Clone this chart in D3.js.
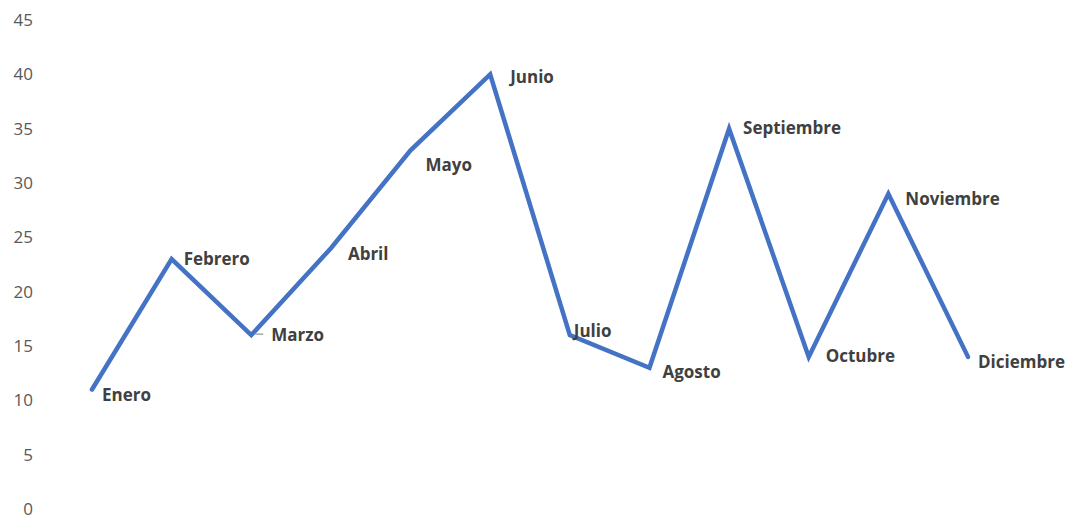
<!DOCTYPE html>
<html>
<head>
<meta charset="utf-8">
<script src="https://cdn.jsdelivr.net/npm/d3@7"></script>
<style>
  body { margin: 0; background: #fff; }
</style>
</head>
<body>
<div id="chart"></div>
<script>
var months = ["Enero", "Febrero", "Marzo", "Abril", "Mayo", "Junio",
              "Julio", "Agosto", "Septiembre", "Octubre", "Noviembre", "Diciembre"];
var values = [11, 23, 16, 24, 33, 40, 16, 13, 35, 14, 29, 14];
var yTicks = [0, 5, 10, 15, 20, 25, 30, 35, 40, 45];

// label nudges (like dragged data labels), [dx, dy]
var labelShift = [[10, 6], [12, 0], [20, 0], [17, 6], [15, 15], [20, 3],
                  [4, -4], [13, 4], [14, -1], [17, -1], [17, 5], [10, 5]];

var width = 1072;
var height = 519;

var svg = d3.select("#chart").append("svg")
    .attr("width", width)
    .attr("height", height);

var xScale = d3.scalePoint()
    .domain(months)
    .range([92, 968]);

var yScale = d3.scaleLinear()
    .domain([0, 45])
    .range([509, 20]);

var yAxis = d3.axisLeft(yScale)
    .tickValues(yTicks)
    .tickSize(0)
    .tickPadding(0);

var gy = svg.append("g")
    .attr("class", "yAxis")
    .attr("transform", "translate(33, 0)")
    .call(yAxis);
gy.select(".domain").remove();
gy.selectAll("text")
    .style("font-family", "'Open Sans', sans-serif")
    .style("font-size", "17px")
    .style("fill", "#595959");

var line = d3.line()
    .x(function(d, i){ return xScale(months[i]); })
    .y(function(d){ return yScale(d); });

svg.append("path")
    .datum(values)
    .attr("d", line)
    .attr("fill", "none")
    .attr("stroke", "#4472C4")
    .attr("stroke-width", 4.5)
    .attr("stroke-linejoin", "miter")
    .attr("stroke-linecap", "round");

// small leader line at Marzo
svg.append("line")
    .attr("x1", xScale("Marzo") + 4)
    .attr("x2", xScale("Marzo") + 12)
    .attr("y1", yScale(values[2]) - 1)
    .attr("y2", yScale(values[2]) - 1)
    .attr("stroke", "#a6a6a6")
    .attr("stroke-width", 1.5);

svg.selectAll(".lbl")
    .data(values).enter().append("text")
    .attr("class", "lbl")
    .attr("x", function(d, i){ return xScale(months[i]) + labelShift[i][0]; })
    .attr("y", function(d, i){ return yScale(d) + labelShift[i][1]; })
    .attr("dy", "0.35em")
    .style("font-family", "'Open Sans', sans-serif")
    .style("font-weight", "bold")
    .style("font-size", "17px")
    .style("fill", "#404040")
    .text(function(d, i){ return months[i]; });
</script>
</body>
</html>
